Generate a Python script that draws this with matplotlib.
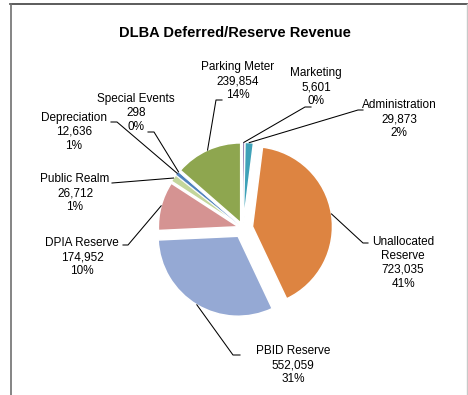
import matplotlib
matplotlib.use("Agg")
import matplotlib.pyplot as plt
import numpy as np

plt.rcParams['font.family'] = ['Liberation Sans', 'DejaVu Sans']

# slices clockwise from 12 o'clock
categories = ["Marketing", "Administration", "Unallocated\nReserve", "PBID Reserve",
              "DPIA Reserve", "Public Realm", "Depreciation", "Special Events",
              "Parking Meter"]
values = [5601, 29873, 723035, 552059, 174952, 26712, 12636, 298, 239854]
percents = ["0%", "2%", "41%", "31%", "10%", "1%", "1%", "0%", "14%"]
colors = ["#7E62A1", "#3FA1B8", "#DD8441", "#95A9D4", "#D59392",
          "#C3D69B", "#4F81BD", "#4BACC6", "#8EA64F"]
explode = [0.07, 0.07, 0.12, 0.12, 0.06, 0.07, 0.07, 0.07, 0.07]

# label text centre and leader elbow (pixel coords, y down)
label_pos = [(316, 87), (399, 119), (403, 263), (293, 365), (82, 257),
             (75, 193), (74, 132), (136, 113), (238, 81)]
elbows = [(305, 107, 311), (358, 110, 363), (363, 243, 368), (233, 355, 240),
          (128, 245, 123), (112, 183, 112), (117, 122, 111), (154, 132, 148),
          (216, 100, 222)]

W, H = 468, 395
fig = plt.figure(figsize=(W / 100, H / 100), dpi=100)
ax = fig.add_axes([0, 0, 1, 1])

cx, cy, r = 243, H - 228, 80
wedges, _ = ax.pie(values, colors=colors, explode=[e * r for e in explode],
                   startangle=90, counterclock=False, radius=r, center=(cx, cy),
                   frame=True, wedgeprops=dict(edgecolor="white", linewidth=1.1))
ax.set_xlim(0, W)
ax.set_ylim(0, H)
ax.set_aspect("equal")
ax.axis("off")

# keep the tiny slices visible
for w, v in zip(wedges, values):
    if v / sum(values) < 0.01:
        w.set_linewidth(0.2)

for w, name, v, pct, (tx, ty), (ex, ey, hx) in zip(wedges, categories, values, percents,
                                                   label_pos, elbows):
    ang = np.deg2rad((w.theta1 + w.theta2) / 2)
    wx, wy = w.center
    px = wx + w.r * np.cos(ang)
    py = wy + w.r * np.sin(ang)
    ax.plot([px, ex, hx], [py, H - ey, H - ey], color="black", lw=0.75)
    ax.text(tx, H - ty, f"{name}\n{v:,}\n{pct}", ha="center", va="center",
            fontsize=8.5, linespacing=1.2)

ax.text(235, H - 33, "DLBA Deferred/Reserve Revenue", ha="center", va="center",
        fontsize=10.5, fontweight="bold")

# chart frame
ax.plot([10, W], [H - 4, H - 4], color="#404040", lw=1.2)
ax.plot([10.5, 10.5], [0, H - 4], color="#707070", lw=1.2)
ax.plot([467, 467], [0, H - 4], color="#C8C8C8", lw=1)

fig.savefig("out.png", dpi=100)
